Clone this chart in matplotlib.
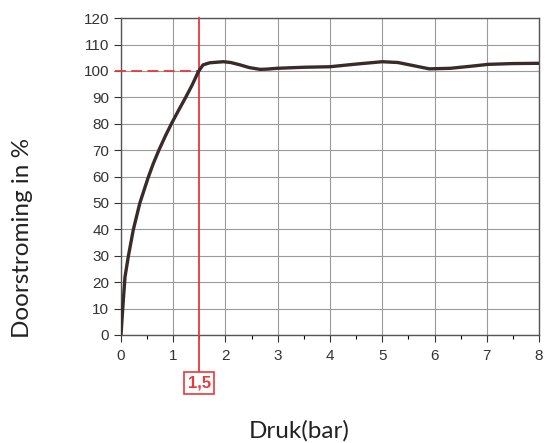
import matplotlib.pyplot as plt

# values
druk = [0.0, 0.045, 0.077, 0.14, 0.235, 0.36, 0.52, 0.62, 0.73, 0.85, 0.97, 1.1, 1.23, 1.36, 1.48,
        1.57, 1.7, 1.96, 2.1, 2.28, 2.45, 2.66, 2.8, 2.98, 3.5, 4.0, 4.5, 5.0, 5.3,
        5.6, 5.9, 6.3, 6.7, 7.03, 7.5, 8.0]
doorstroming = [0.0, 13.3, 22.0, 29.7, 39.8, 49.9, 59.6, 65.0, 70.2, 75.4, 80.2, 85.0, 89.7, 94.6, 99.7,
                102.3, 103.1, 103.5, 103.2, 102.3, 101.3, 100.6, 100.7, 101.0, 101.4, 101.6, 102.6, 103.5, 103.2,
                102.0, 100.8, 101.0, 101.8, 102.5, 102.8, 102.9]
x_ticks = list(range(0, 9))
y_ticks = list(range(0, 121, 10))
marker_x = 1.5
marker_y = 100

plt.rcParams["font.family"] = ["Liberation Sans", "DejaVu Sans"]

fig = plt.figure(figsize=(5.45, 4.43), dpi=100)
ax = fig.add_axes([0.222, 0.244, 0.767, 0.715])

ax.plot(druk, doorstroming, color="#3a2b2b", lw=2.4, zorder=4,
        solid_capstyle="round", solid_joinstyle="round")

ax.set_xlim(0, 8)
ax.set_ylim(0, 120)
ax.set_xticks(x_ticks)
ax.set_yticks(y_ticks)
ax.set_xticks([t + 0.5 for t in x_ticks[:-1]], minor=True)
ax.grid(True, color="#9a9a9a", lw=0.8)
ax.set_axisbelow(True)
for s in ax.spines.values():
    s.set_color("#555555")
    s.set_linewidth(1.0)
ax.tick_params(labelsize=11, colors="#333333", length=5, width=0.8, pad=3.5)
ax.tick_params(which="minor", length=3, width=0.8)
ax.tick_params(axis="x", pad=5)

# red guide lines
ax.plot([-0.12, marker_x], [marker_y, marker_y], color="#e8383d", lw=1.3,
        dashes=(6, 3), clip_on=False, zorder=3)
ax.plot([marker_x, marker_x], [120, -14], color="#e8383d", lw=1.3, clip_on=False, zorder=3)
ax.text(marker_x, -18.2, "1,5", ha="center", va="center", fontsize=12,
        fontweight="bold", color="#e8383d",
        bbox=dict(boxstyle="square,pad=0.2", fc="white", ec="#e8383d", lw=1.2))

fig.text(0.042, 0.463, "Doorstroming in %", rotation=90, ha="center", va="center",
         fontsize=17.5, family=["Lato", "DejaVu Sans"], color="#222222")
fig.text(0.549, 0.027, "Druk(bar)", ha="center", va="center",
         fontsize=17.5, family=["Lato", "DejaVu Sans"], color="#222222")

fig.savefig("out.png", dpi=100)
